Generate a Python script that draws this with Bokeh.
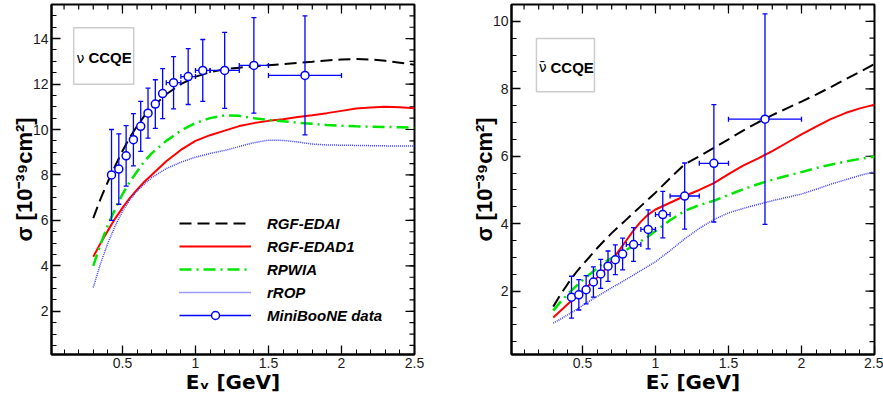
import numpy as np
from bokeh.plotting import figure
from bokeh.layouts import row
from bokeh.models import (Range1d, FixedTicker, Legend, LegendItem,
                          BoxAnnotation, Label, NumeralTickFormatter, ColumnDataSource)
from bokeh.embed import file_html
from bokeh.resources import INLINE

# ---------------- data : neutrino panel ----------------
nu_curve_E = [0.30, 0.35, 0.40, 0.45, 0.50, 0.55, 0.60, 0.65, 0.70, 0.80, 0.90, 1.00, 1.10,
              1.20, 1.30, 1.40, 1.50, 1.60, 1.70, 1.80, 1.90, 2.00, 2.10, 2.20, 2.30, 2.40, 2.50]
nu_edai = [6.10, 6.95, 7.70, 8.40, 9.05, 9.65, 10.15, 10.60, 10.95, 11.55, 12.00, 12.32, 12.52,
           12.65, 12.72, 12.78, 12.83, 12.88, 12.93, 12.98, 13.04, 13.08, 13.10, 13.08, 13.02, 12.94, 12.85]
nu_edad1 = [4.40, 5.00, 5.55, 6.08, 6.55, 6.98, 7.35, 7.70, 8.00, 8.60, 9.10, 9.50, 9.75,
            9.95, 10.15, 10.28, 10.38, 10.45, 10.55, 10.63, 10.72, 10.82, 10.92, 10.97, 11.00, 10.98, 10.93]
nu_rpwia = [4.00, 4.95, 5.80, 6.50, 7.15, 7.70, 8.15, 8.60, 8.95, 9.50, 9.95, 10.28, 10.50,
            10.62, 10.60, 10.50, 10.42, 10.36, 10.30, 10.25, 10.20, 10.17, 10.14, 10.12, 10.11, 10.10, 10.08]
nu_rrop = [3.05, 4.10, 5.00, 5.75, 6.40, 6.90, 7.30, 7.60, 7.88, 8.28, 8.56, 8.78, 8.95,
           9.08, 9.25, 9.42, 9.53, 9.52, 9.45, 9.36, 9.32, 9.31, 9.30, 9.29, 9.28, 9.27, 9.27]

# ---------------- data : antineutrino panel ----------------
anu_curve_E = [0.30, 0.35, 0.40, 0.45, 0.50, 0.55, 0.60, 0.65, 0.70, 0.75, 0.80, 0.85, 0.90, 0.95, 1.00,
               1.10, 1.20, 1.30, 1.40, 1.50, 1.60, 1.70, 1.80, 1.90, 2.00, 2.10, 2.20, 2.30, 2.40, 2.50]
anu_edai = [1.54, 1.90, 2.22, 2.52, 2.78, 3.02, 3.27, 3.50, 3.72, 3.92, 4.12, 4.32, 4.52, 4.72, 4.92,
            5.35, 5.76, 6.00, 6.25, 6.50, 6.76, 7.00, 7.22, 7.42, 7.62, 7.83, 8.05, 8.28, 8.50, 8.74]
anu_edad1 = [1.22, 1.42, 1.62, 1.82, 2.00, 2.20, 2.40, 2.62, 2.90, 3.20, 3.50, 3.80, 4.06, 4.27, 4.42,
             4.62, 4.82, 5.00, 5.20, 5.47, 5.72, 5.93, 6.15, 6.40, 6.65, 6.88, 7.10, 7.28, 7.42, 7.53]
anu_rpwia = [1.42, 1.68, 1.92, 2.12, 2.32, 2.50, 2.68, 2.85, 2.98, 3.10, 3.22, 3.35, 3.48, 3.62, 3.78,
             4.10, 4.38, 4.55, 4.68, 4.85, 5.02, 5.17, 5.30, 5.42, 5.53, 5.65, 5.75, 5.84, 5.92, 5.99]
anu_rrop = [1.05, 1.17, 1.30, 1.43, 1.57, 1.71, 1.84, 1.97, 2.10, 2.22, 2.35, 2.48, 2.61, 2.74, 2.87,
            3.20, 3.55, 3.86, 4.12, 4.32, 4.45, 4.57, 4.68, 4.78, 4.88, 5.02, 5.17, 5.30, 5.43, 5.54]

# ---------------- MiniBooNE data ----------------
bin_E = [0.425, 0.475, 0.525, 0.575, 0.625, 0.675, 0.725, 0.775, 0.85, 0.95, 1.05, 1.20, 1.40, 1.75]
bin_half = [0.025, 0.025, 0.025, 0.025, 0.025, 0.025, 0.025, 0.025, 0.05, 0.05, 0.05, 0.10, 0.10, 0.25]
nu_sigma = [8.00, 8.26, 8.84, 9.55, 10.14, 10.72, 11.12, 11.58, 12.06, 12.33, 12.60, 12.60, 12.82, 12.38]
nu_err = [2.00, 1.55, 1.33, 1.15, 1.10, 1.10, 1.07, 1.10, 1.15, 1.23, 1.36, 1.67, 2.10, 2.62]
anu_sigma = [1.82, 1.89, 2.04, 2.27, 2.51, 2.74, 2.93, 3.10, 3.38, 3.83, 4.27, 4.82, 5.79, 7.10]
anu_err = [0.62, 0.45, 0.42, 0.45, 0.43, 0.45, 0.44, 0.47, 0.50, 0.58, 0.69, 0.98, 1.74, 3.12]

series_labels = ["RGF-EDAI", "RGF-EDAD1", "RPWIA", "rROP", "MiniBooNE data"]
x_ticks = [0.5, 1.0, 1.5, 2.0, 2.5]
nu_y_ticks = [2, 4, 6, 8, 10, 12, 14]
anu_y_ticks = [2, 4, 6, 8, 10]

# ---------------- styles ----------------
FONT = "Liberation Sans"
STYLES = [
    dict(line_color="black", line_width=2, line_dash="12 6"),
    dict(line_color="#ff0000", line_width=2, line_dash="solid"),
    dict(line_color="#00e600", line_width=2.5, line_dash="12 5 2 5"),
    dict(line_color="#3a3aff", line_width=1.5, line_dash="1 1"),
]
DATA_COLOR = "#0000ff"
H = 402
FRAME_W = 363
FRAME_H = 350
X_RANGE = (0.014, 2.5)


def style_axis(ax):
    ax.axis_line_color = "black"
    ax.axis_line_width = 2
    ax.major_tick_in = 9
    ax.major_tick_out = 0
    ax.minor_tick_in = 5
    ax.minor_tick_out = 0
    ax.major_tick_line_color = "black"
    ax.minor_tick_line_color = "black"
    ax.major_tick_line_width = 1.3
    ax.minor_tick_line_width = 1
    ax.major_label_text_font = FONT
    ax.major_label_text_font_size = "14px"
    ax.major_label_text_color = "#1a1a1a"
    ax.major_label_standoff = 3
    ax.axis_label_text_font = FONT
    ax.axis_label_text_font_style = "bold"
    ax.axis_label_text_font_size = "22px"
    ax.axis_label_text_color = "black"


def frame_ticks(p, yr, xminor, yticks, yminor):
    # ROOT-style ticks on the top and right sides of the frame
    dx = (X_RANGE[1] - X_RANGE[0]) / FRAME_W
    dy = (yr[1] - yr[0]) / FRAME_H
    xt = np.array(list(xminor) + list(x_ticks), dtype=float)
    xl = np.array([5] * len(xminor) + [9] * len(x_ticks), dtype=float)
    p.segment(x0=xt, y0=np.full(len(xt), yr[1]), x1=xt, y1=yr[1] - xl * dy,
              line_color="black", line_width=1.2)
    yt = np.array(list(yminor) + list(yticks), dtype=float)
    yl = np.array([5] * len(yminor) + [9] * len(yticks), dtype=float)
    p.segment(x0=np.full(len(yt), X_RANGE[1]), y0=yt, x1=X_RANGE[1] - yl * dx, y1=yt,
              line_color="black", line_width=1.2)


def make_panel(width, bl, br, yr, yticks, cE, curves, sigma, err, ylabel, xlabel):
    p = figure(width=width, height=H, x_range=Range1d(*X_RANGE), y_range=Range1d(*yr),
               output_backend="svg", toolbar_location=None,
               min_border_left=bl, min_border_right=br, min_border_top=4,
               min_border_bottom=H - 4 - FRAME_H)
    p.xgrid.visible = False
    p.ygrid.visible = False
    p.outline_line_color = "black"
    p.outline_line_width = 2
    p.background_fill_color = "white"
    p.border_fill_color = "white"

    xminor = [round(v, 2) for v in np.arange(0.1, 2.51, 0.1)]
    yminor = [round(v, 2) for v in np.arange(0.5, yr[1], 0.5)]

    xa = p.xaxis[0]
    xa.ticker = FixedTicker(ticks=x_ticks, minor_ticks=xminor)
    xa.formatter = NumeralTickFormatter(format="0.[0]")
    style_axis(xa)
    xa.axis_label = xlabel
    xa.axis_label_text_font = "DejaVu Sans"
    xa.axis_label_text_font_size = "20px"
    xa.axis_label_standoff = -1
    ya = p.yaxis[0]
    ya.ticker = FixedTicker(ticks=yticks, minor_ticks=yminor)
    style_axis(ya)
    ya.axis_label = ylabel
    ya.axis_label_standoff = -7

    frame_ticks(p, yr, xminor, yticks, yminor)

    rends = []
    for ys, st in zip(curves, STYLES):
        rends.append(p.line(cE, ys, **st))

    E = np.array(bin_E)
    dE = np.array(bin_half)
    s = np.array(sigma)
    e = np.array(err)
    src = ColumnDataSource(dict(x=E, y=s, xl=E - dE, xr=E + dE, yl=s - e, yh=s + e))
    hseg = p.segment(x0="xl", y0="y", x1="xr", y1="y", source=src, line_color=DATA_COLOR, line_width=1.3)
    p.segment(x0="x", y0="yl", x1="x", y1="yh", source=src, line_color=DATA_COLOR, line_width=1.3)
    p.scatter(x="x", y="yl", source=src, marker="dash", size=5, line_color=DATA_COLOR, line_width=1.3)
    p.scatter(x="x", y="yh", source=src, marker="dash", size=5, line_color=DATA_COLOR, line_width=1.3)
    wide = dE >= 0.05
    capsrc = ColumnDataSource(dict(x=np.concatenate([E[wide] - dE[wide], E[wide] + dE[wide]]),
                                   y=np.concatenate([s[wide], s[wide]])))
    p.scatter(x="x", y="y", source=capsrc, marker="dash", angle=np.pi / 2, size=5,
              line_color=DATA_COLOR, line_width=1.3)
    pts = p.scatter(x="x", y="y", source=src, marker="circle", size=8, fill_color="white",
                    line_color=DATA_COLOR, line_width=1.5)
    rends.append((hseg, pts))
    return p, rends


def tag_box(p, l, r, t, b, sym, xs, xc, yc):
    p.add_layout(BoxAnnotation(left=l, right=r, top=t, bottom=b, fill_color="white", fill_alpha=1,
                               line_color="#555555", line_width=1.5))
    p.add_layout(Label(x=xs, y=yc, text=sym, text_font="DejaVu Sans", text_font_size="14px",
                       text_baseline="middle", text_align="left", text_color="black"))
    p.add_layout(Label(x=xc, y=yc, text="CCQE", text_font=FONT, text_font_style="bold",
                       text_font_size="15px", text_baseline="middle", text_align="left",
                       text_color="black"))


ylab = "\u03c3 [10\u207b\u00b3\u2079cm\u00b2]"

p1, r1 = make_panel(440, 51, 26, (0.1, 15.5), nu_y_ticks, nu_curve_E,
                    [nu_edai, nu_edad1, nu_rpwia, nu_rrop], nu_sigma, nu_err, ylab,
                    "E\u1d65 [GeV]")
p2, r2 = make_panel(443, 71, 9, (0.12, 10.5), anu_y_ticks, anu_curve_E,
                    [anu_edai, anu_edad1, anu_rpwia, anu_rrop], anu_sigma, anu_err, ylab,
                    "E\u1d65\u0304 [GeV]")

items = []
for lab, rr in zip(series_labels, r1):
    rl = list(rr) if isinstance(rr, tuple) else [rr]
    items.append(LegendItem(label=lab, renderers=rl))
leg = Legend(items=items, location=(128, 29), glyph_width=72, glyph_height=20, label_height=20,
             spacing=3, label_standoff=16, padding=0, margin=0, border_line_color=None,
             background_fill_alpha=0, label_text_font=FONT, label_text_font_style="bold italic",
             label_text_font_size="15px", label_text_color="black")
p1.add_layout(leg)

tag_box(p1, 0.166, 0.577, 14.48, 11.99, "\u03bd", 0.185, 0.267, 13.16)
tag_box(p2, 0.185, 0.582, 9.49, 7.91, "\u03bd\u0304", 0.2, 0.281, 8.64)

layout = row(p1, p2)
open("out.html", "w").write(file_html(layout, INLINE))
